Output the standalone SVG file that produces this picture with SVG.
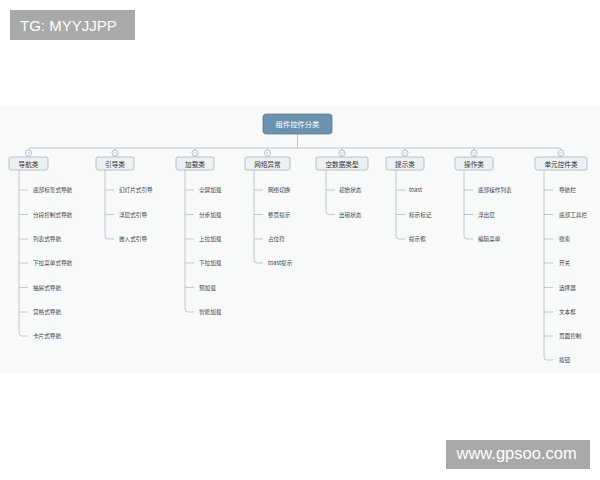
<svg xmlns="http://www.w3.org/2000/svg" width="600" height="480" viewBox="0 0 600 480">
<style>
.bg{fill:#f8f9f9}
.root rect{fill:#6b93b0;stroke:#5a7f9a;stroke-width:0.8}
.root text{fill:#ffffff;font-family:"Noto Sans CJK SC","Liberation Sans",sans-serif;font-size:7.3px;text-anchor:middle;dominant-baseline:central}
.cat rect{fill:#edf1f4;stroke:#a7b6c2;stroke-width:0.8}
.cat text{fill:#333333;font-family:"Noto Sans CJK SC","Liberation Sans",sans-serif;font-size:6.6px;text-anchor:middle;dominant-baseline:central}
.leaf text{fill:#444444;font-family:"Noto Sans CJK SC","Liberation Sans",sans-serif;font-size:5.6px;dominant-baseline:central}
.conn path,.conn line{fill:none;stroke:#b7c3cc;stroke-width:0.9}
.conn circle{fill:#ffffff;stroke:#9aa9b5;stroke-width:0.7}
.wm rect{fill:#a9a9a9}
.wm text{fill:#ffffff;font-family:"Liberation Sans",Arial,sans-serif}
</style>
<rect x="0" y="0" width="600" height="480" fill="#ffffff"/>
<rect class="bg" x="0" y="106" width="600" height="267"/>

<g class="conn" id="connectors">
  <line x1="297.5" y1="134" x2="297.5" y2="148"/>
  <path d="M28.5,150 Q28.5,148 30.5,148 H559 Q561,148 561,150"/>
  <line x1="115" y1="148" x2="115" y2="150"/>
  <line x1="195" y1="148" x2="195" y2="150"/>
  <line x1="267.5" y1="148" x2="267.5" y2="150"/>
  <line x1="342" y1="148" x2="342" y2="150"/>
  <line x1="405" y1="148" x2="405" y2="150"/>
  <line x1="474" y1="148" x2="474" y2="150"/>
  <g>
    <circle cx="28.5" cy="153" r="3"/><path d="M26.8,153 H30.2"/><line x1="28.5" y1="156" x2="28.5" y2="157"/>
    <circle cx="115" cy="153" r="3"/><path d="M113.3,153 H116.7"/><line x1="115" y1="156" x2="115" y2="157"/>
    <circle cx="195" cy="153" r="3"/><path d="M193.3,153 H196.7"/><line x1="195" y1="156" x2="195" y2="157"/>
    <circle cx="267.5" cy="153" r="3"/><path d="M265.8,153 H269.2"/><line x1="267.5" y1="156" x2="267.5" y2="157"/>
    <circle cx="342" cy="153" r="3"/><path d="M340.3,153 H343.7"/><line x1="342" y1="156" x2="342" y2="157"/>
    <circle cx="405" cy="153" r="3"/><path d="M403.3,153 H406.7"/><line x1="405" y1="156" x2="405" y2="157"/>
    <circle cx="474" cy="153" r="3"/><path d="M472.3,153 H475.7"/><line x1="474" y1="156" x2="474" y2="157"/>
    <circle cx="561" cy="153" r="3"/><path d="M559.3,153 H562.7"/><line x1="561" y1="156" x2="561" y2="157"/>
  </g>
  <!-- 导航类 -->
  <path d="M19,170 V333 Q19,336 22,336 H28"/>
  <path d="M19,190 H28 M19,214.5 H28 M19,239 H28 M19,263 H28 M19,287.5 H28 M19,312 H28"/>
  <!-- 引导类 -->
  <path d="M105,170 V236 Q105,239 108,239 H114"/>
  <path d="M105,190 H114 M105,214.5 H114"/>
  <!-- 加载类 -->
  <path d="M185,170 V309 Q185,312 188,312 H194"/>
  <path d="M185,190 H194 M185,214.5 H194 M185,239 H194 M185,263 H194 M185,287.5 H194"/>
  <!-- 网络异常 -->
  <path d="M254,170 V260 Q254,263 257,263 H263"/>
  <path d="M254,190 H263 M254,214.5 H263 M254,239 H263"/>
  <!-- 空数据类型 -->
  <path d="M326,170 V211.5 Q326,214.5 329,214.5 H335"/>
  <path d="M326,190 H335"/>
  <!-- 提示类 -->
  <path d="M396,170 V236 Q396,239 399,239 H405"/>
  <path d="M396,190 H405 M396,214.5 H405"/>
  <!-- 操作类 -->
  <path d="M464,170 V236 Q464,239 467,239 H473"/>
  <path d="M464,190 H473 M464,214.5 H473"/>
  <!-- 单元控件类 -->
  <path d="M544,170 V357 Q544,360 547,360 H553"/>
  <path d="M544,190 H553 M544,214.5 H553 M544,239 H553 M544,263 H553 M544,287.5 H553 M544,312 H553 M544,336 H553"/>
</g>

<g class="root" id="root"><rect x="263" y="114" width="69" height="20" rx="3"/><text x="297.5" y="124">组件控件分类</text></g>

<g class="cat" id="cat-nav"><rect x="9" y="157" width="39" height="13" rx="2"/><text x="28.5" y="163.5">导航类</text></g>
<g class="cat" id="cat-guide"><rect x="96" y="157" width="38" height="13" rx="2"/><text x="115" y="163.5">引导类</text></g>
<g class="cat" id="cat-load"><rect x="176" y="157" width="38" height="13" rx="2"/><text x="195" y="163.5">加载类</text></g>
<g class="cat" id="cat-net"><rect x="245" y="157" width="45" height="13" rx="2"/><text x="267.5" y="163.5">网络异常</text></g>
<g class="cat" id="cat-empty"><rect x="316" y="157" width="52" height="13" rx="2"/><text x="342" y="163.5">空数据类型</text></g>
<g class="cat" id="cat-tip"><rect x="386" y="157" width="38" height="13" rx="2"/><text x="405" y="163.5">提示类</text></g>
<g class="cat" id="cat-op"><rect x="455" y="157" width="38" height="13" rx="2"/><text x="474" y="163.5">操作类</text></g>
<g class="cat" id="cat-unit"><rect x="535" y="157" width="52" height="13" rx="2"/><text x="561" y="163.5">单元控件类</text></g>

<g class="leaf" id="nav-1"><text x="33" y="190">底部标签式导航</text></g>
<g class="leaf" id="nav-2"><text x="33" y="214.5">分段控制式导航</text></g>
<g class="leaf" id="nav-3"><text x="33" y="239">列表式导航</text></g>
<g class="leaf" id="nav-4"><text x="33" y="263">下拉菜单式导航</text></g>
<g class="leaf" id="nav-5"><text x="33" y="287.5">抽屉式导航</text></g>
<g class="leaf" id="nav-6"><text x="33" y="312">宫格式导航</text></g>
<g class="leaf" id="nav-7"><text x="33" y="336">卡片式导航</text></g>

<g class="leaf" id="guide-1"><text x="119" y="190">幻灯片式引导</text></g>
<g class="leaf" id="guide-2"><text x="119" y="214.5">浮层式引导</text></g>
<g class="leaf" id="guide-3"><text x="119" y="239">嵌入式引导</text></g>

<g class="leaf" id="load-1"><text x="199" y="190">全屏加载</text></g>
<g class="leaf" id="load-2"><text x="199" y="214.5">分步加载</text></g>
<g class="leaf" id="load-3"><text x="199" y="239">上拉加载</text></g>
<g class="leaf" id="load-4"><text x="199" y="263">下拉加载</text></g>
<g class="leaf" id="load-5"><text x="199" y="287.5">预加载</text></g>
<g class="leaf" id="load-6"><text x="199" y="312">智能加载</text></g>

<g class="leaf" id="net-1"><text x="268" y="190">网络切换</text></g>
<g class="leaf" id="net-2"><text x="268" y="214.5">整页提示</text></g>
<g class="leaf" id="net-3"><text x="268" y="239">占位符</text></g>
<g class="leaf" id="net-4"><text x="268" y="263">toast提示</text></g>

<g class="leaf" id="empty-1"><text x="339" y="190">初始状态</text></g>
<g class="leaf" id="empty-2"><text x="339" y="214.5">出错状态</text></g>

<g class="leaf" id="tip-1"><text x="409" y="190">toast</text></g>
<g class="leaf" id="tip-2"><text x="409" y="214.5">标示标记</text></g>
<g class="leaf" id="tip-3"><text x="409" y="239">提示框</text></g>

<g class="leaf" id="op-1"><text x="478" y="190">底部操作列表</text></g>
<g class="leaf" id="op-2"><text x="478" y="214.5">浮出层</text></g>
<g class="leaf" id="op-3"><text x="478" y="239">编辑菜单</text></g>

<g class="leaf" id="unit-1"><text x="559" y="190">导航栏</text></g>
<g class="leaf" id="unit-2"><text x="559" y="214.5">底部工具栏</text></g>
<g class="leaf" id="unit-3"><text x="559" y="239">搜索</text></g>
<g class="leaf" id="unit-4"><text x="559" y="263">开关</text></g>
<g class="leaf" id="unit-5"><text x="559" y="287.5">选择器</text></g>
<g class="leaf" id="unit-6"><text x="559" y="312">文本框</text></g>
<g class="leaf" id="unit-7"><text x="559" y="336">页面控制</text></g>
<g class="leaf" id="unit-8"><text x="559" y="360">按钮</text></g>

<g class="wm" id="wm-top"><rect x="10" y="10" width="125" height="30"/><text x="20" y="30.5" font-size="15">TG: MYYJJPP</text></g>
<g class="wm" id="wm-bottom"><rect x="446" y="440" width="144" height="29"/><text x="456.5" y="459" font-size="16.5">www.gpsoo.com</text></g>
</svg>
